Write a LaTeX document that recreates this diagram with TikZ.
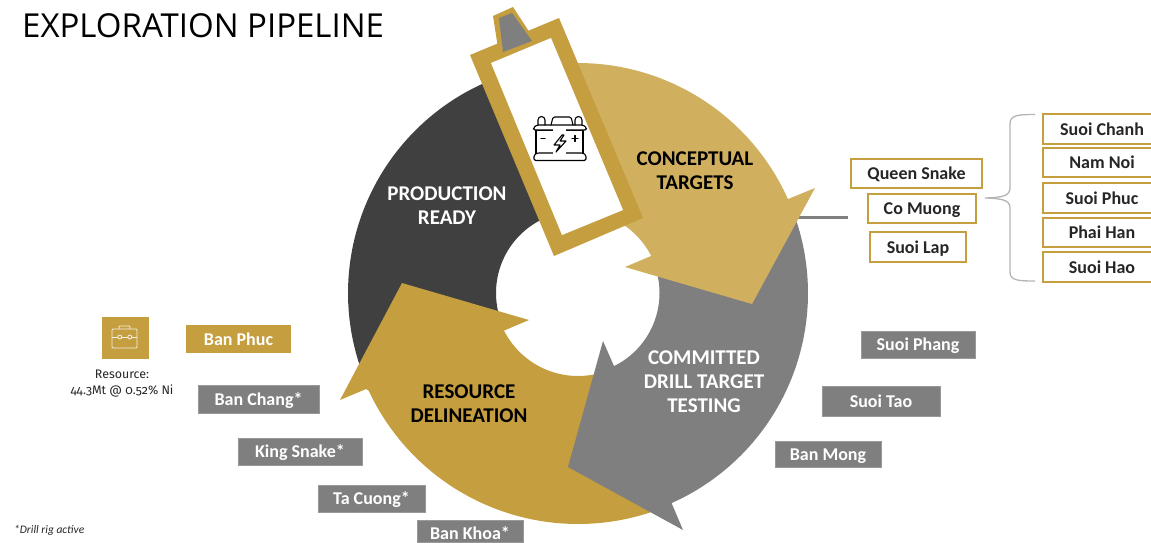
\documentclass[tikz,border=0pt]{standalone}
\usepackage{fontspec}
\setmainfont{Carlito}
\newfontfamily\titlefont{Open Sans}
\newfontfamily\oldnum[Numbers=OldStyle]{Fira Sans}
\definecolor{dk}{HTML}{404040}
\definecolor{gy}{HTML}{7F7F7F}
\definecolor{gd}{HTML}{C49E3F}
\definecolor{lg}{HTML}{D0AF5F}
\definecolor{br}{HTML}{B4B4B4}
\tikzset{
  sitefont/.style={font=\fontsize{18}{20}\selectfont\bfseries},
  goldbox/.style={sitefont,draw=gd,line width=1.5pt,fill=white,text=black!85,inner sep=0pt,anchor=center,text height=16pt,text depth=3.5pt},
  greybox/.style={sitefont,draw=gy!80!white,line width=.6pt,fill=gy,text=white,inner sep=0pt,anchor=center,text height=16pt,text depth=3.5pt},
  stage/.style={font=\fontsize{21}{24}\selectfont\bfseries,align=center,inner sep=0pt,yshift=-.8pt},
  icon/.style={line width=1.1pt,line join=round,line cap=round},
}
\begin{document}
\begin{tikzpicture}[x=1pt,y=-1pt]
\useasboundingbox (0,0) rectangle (1151,542);
\clip (0,0) rectangle (1151,542);
% connector behind the ring
\coordinate (ringedge) at (790,217);
\coordinate (lineend) at (848,217);
\draw[gy,line width=3pt] (ringedge) -- (lineend);
% production ready
\fill[dk] plot[domain=155:265,samples=60] ({578+230*cos(\x)},{293+230*sin(\x)})
  -- plot[domain=265:157,samples=60] ({578+82*cos(\x)},{293+82*sin(\x)}) -- cycle;
% resource delineation
\fill[gd] (402,283) -- (529,320) -- (503,331)
  -- plot[domain=153:70,samples=60] ({578+83*cos(\x)},{293+83*sin(\x)})
  -- plot[domain=70:155,samples=60] ({578+231*cos(\x)},{293+231*sin(\x)})
  -- (366,389) -- (340,400) -- cycle;
% committed drill target testing
\fill[gy] plot[domain=-23:66,samples=60] ({578+230*cos(\x)},{293+230*sin(\x)})
  -- (672,504) -- (683,530) -- (568,467) -- (603,341) -- (614,366)
  -- plot[domain=63.7:-20,samples=60] ({578+81.5*cos(\x)},{293+81.5*sin(\x)}) -- cycle;
% conceptual targets
\fill[lg] plot[domain=-93:-24.1,samples=60] ({578+230*cos(\x)},{293+230*sin(\x)})
  -- (815,188) -- (752,304) -- (625,267) -- (651,256)
  -- plot[domain=-26.9:-65,samples=60] ({578+82*cos(\x)},{293+82*sin(\x)}) -- cycle;
% battery frame
\fill[gd] (493,16) -- (513,7) -- (530,33) -- (498,48) -- cycle;
\fill[gd] (470,55) -- (559,18) -- (643,218) -- (554,256) -- cycle;
\fill[white] (491,63) -- (551,38) -- (623,210) -- (562,235) -- cycle;
\fill[gy] (499,18) -- (512,13) -- (532,41) -- (503,52) -- cycle;
% battery icon
\draw[icon,fill=white] (536,130) rectangle (583,154);
\draw[icon,fill=white,rounded corners=1.5pt] (533.5,130) -- (533.5,127.5) -- (537,125) -- (583,125) -- (586.5,127.5) -- (586.5,130) -- cycle;
\draw[icon,fill=white,rounded corners=1.5pt] (534,160.5) -- (534,155) -- (537,153) -- (583,153) -- (586,155) -- (586,160.5) -- cycle;
\draw[white,line width=1.6pt] (553,130) -- (566,130) (553,153) -- (566,153);
\draw[icon] (538,125) -- (538,120) arc[start angle=180,end angle=360,radius=3.5] -- (545,125);
\draw[icon] (575,125) -- (575,120) arc[start angle=180,end angle=360,radius=3.5] -- (582,125);
\draw[icon,rounded corners=1.5pt] (551,125) -- (553,117) -- (571,117) -- (573,125);
\draw[icon] (562,135) -- (554,145) -- (560,145) -- (556,152) -- (566,141) -- (560,141) -- (564,135) -- cycle;
\draw[icon] (541,138.5) -- (545,138.5) (572,138.5) -- (578,138.5) (575,135.5) -- (575,141.5);
% title
\node[anchor=west,inner sep=0pt,text=black,font=\titlefont\fontsize{33}{36}\selectfont] (title) at (22,26) {EXPLORATION PIPELINE};
% stage labels
\node[stage,text=black] (concept) at (695,170) {CONCEPTUAL\\TARGETS};
\node[stage,text=white] (prod) at (447,205) {PRODUCTION\\READY};
\node[stage,text=white] (drill) at (704,381) {COMMITTED\\DRILL TARGET\\TESTING};
\node[stage,text=black] (resource) at (469,403) {RESOURCE\\DELINEATION};
% gold boxes, centre list
\node[goldbox,minimum width=131pt,minimum height=29pt] (queen) at (916.5,173.5) {Queen Snake};
\node[goldbox,minimum width=108pt,minimum height=29pt] (co) at (922,208.5) {Co Muong};
\node[goldbox,minimum width=96pt,minimum height=30pt] (lap) at (918,247) {Suoi Lap};
% gold boxes, right list
\node[goldbox,minimum width=118pt,minimum height=30pt] (chanh) at (1102,129) {Suoi Chanh};
\node[goldbox,minimum width=118pt,minimum height=29pt] (nam) at (1102,162.5) {Nam Noi};
\node[goldbox,minimum width=118pt,minimum height=30pt] (sphuc) at (1102,198) {Suoi Phuc};
\node[goldbox,minimum width=118pt,minimum height=29pt] (phai) at (1102,232.5) {Phai Han};
\node[goldbox,minimum width=118pt,minimum height=30pt] (hao) at (1102,267) {Suoi Hao};
% brace
\coordinate (bracetop) at (1035,114.5);
\coordinate (bracetip) at (985,198);
\coordinate (bracebot) at (1035,281);
\draw[br,line width=1.3pt] (bracetop) .. controls (1018,114.5) and (1010,115) .. (1010,124)
  -- (1010,188) .. controls (1010,196) and (1002,197.5) .. (bracetip)
  .. controls (1002,198.5) and (1010,200) .. (1010,208)
  -- (1010,272) .. controls (1010,280.5) and (1018,281) .. (bracebot);
% grey boxes
\node[greybox,minimum width=114pt,minimum height=27pt] (phang) at (918,344.5) {Suoi Phang};
\node[greybox,minimum width=118pt,minimum height=30pt] (tao) at (881,401) {Suoi Tao};
\node[greybox,minimum width=106pt,minimum height=26pt] (mong) at (828,454) {Ban Mong};
\node[greybox,minimum width=121pt,minimum height=28pt] (chang) at (258.5,399) {Ban Chang*};
\node[greybox,minimum width=124pt,minimum height=27pt] (king) at (300,451.5) {King Snake*};
\node[greybox,minimum width=107pt,minimum height=27pt] (cuong) at (371.5,498.5) {Ta Cuong*};
\node[greybox,minimum width=106pt,minimum height=22pt,text height=17pt,text depth=0pt] (khoa) at (470,531) {Ban Khoa*};
\node[sitefont,fill=gd,text=white,inner sep=0pt,minimum width=105pt,minimum height=28pt,text height=16pt,text depth=3.5pt] (banphuc) at (238.5,339) {Ban Phuc};
% briefcase
\node[fill=gd,inner sep=0pt,minimum width=47pt,minimum height=42pt] (case) at (125.5,338) {};
\begin{scope}[line width=.8pt,draw=white!85!gd,line join=round]
\draw[rounded corners=1pt] (112,329) rectangle (137,348);
\draw[rounded corners=1pt] (119,329) -- (119,326) -- (130,326) -- (130,329);
\draw (112,337) -- (118,337) (121.5,337) -- (128,337) (131.5,337) -- (137,337);
\draw (119.8,337) circle[radius=2] (129.8,337) circle[radius=2];
\end{scope}
% texts
\node[align=center,inner sep=0pt,text=black!85,font=\oldnum\fontsize{12.4}{16}\selectfont] (restext) at (122,384) {Resource:\\44.3Mt @ 0.52\% Ni};
\node[anchor=west,inner sep=0pt,text=black!85,font=\fontsize{11.5}{14}\selectfont\itshape] (rig) at (14,530) {*Drill rig active};
\end{tikzpicture}
\end{document}
